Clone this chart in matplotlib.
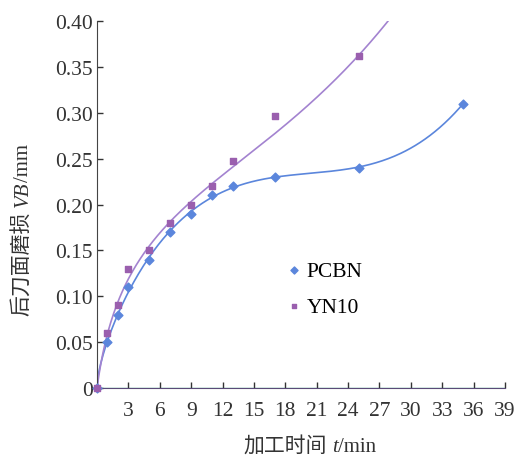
import numpy as np
import matplotlib
matplotlib.use('Agg')
import matplotlib.pyplot as plt

plt.rcParams['font.family'] = ['Liberation Serif', 'Noto Sans CJK SC']

# measured wear data
t_pcbn = [0, 1, 2, 3, 5, 7, 9, 11, 13, 17, 25, 35]
vb_pcbn = [0, 0.05, 0.08, 0.11, 0.14, 0.17, 0.19, 0.21, 0.22, 0.23, 0.24, 0.31]
t_yn10 = [0, 1, 2, 3, 5, 7, 9, 11, 13, 17, 25]
vb_yn10 = [0, 0.06, 0.09, 0.13, 0.15, 0.18, 0.20, 0.22, 0.247, 0.296, 0.362]

x_ticks = [3, 6, 9, 12, 15, 18, 21, 24, 27, 30, 33, 36, 39]
y_ticks = [0, 0.05, 0.10, 0.15, 0.20, 0.25, 0.30, 0.35, 0.40]

blue = '#5b86dc'
purple = '#9a5fae'
purple_line = '#a383d0'
text_color = '#333333'


def fit_curve(t, vb, t_end, basis, weights=None):
    t = np.asarray(t, float)
    vb = np.asarray(vb, float)
    w = np.ones_like(t) if weights is None else np.asarray(weights, float)
    coef, *_ = np.linalg.lstsq(basis(t) * w[:, None], vb * w, rcond=None)
    tt = np.linspace(0, t_end, 300)
    return tt, basis(tt) @ coef


def draw_label(fig, pieces, center_px, base_px, rotation, gap=5):
    # pieces: list of (text, style); placed one after another, centred on center_px
    texts = [fig.text(0, 0, s, fontsize=15, style=st, color=text_color, rotation=rotation,
                      rotation_mode='anchor', ha='left', va='baseline') for s, st in pieces]
    r = fig.canvas.get_renderer()
    sizes = []
    for t in texts:
        bb = t.get_window_extent(r)
        sizes.append(bb.width if rotation == 0 else bb.height)
    total = sum(sizes) + gap
    pos = center_px - total / 2
    W, H = fig.bbox.width, fig.bbox.height
    for i, (t, size) in enumerate(zip(texts, sizes)):
        if rotation == 0:
            t.set_position((pos / W, base_px / H))
        else:
            t.set_position((base_px / W, pos / H))
        pos += size + (gap if i == 0 else 0)


basis_pcbn = lambda x: np.column_stack([np.ones_like(x), np.sqrt(x), x, x**2, x**3])
basis_yn10 = lambda x: np.column_stack([np.log1p(x), x, x**3])
w_yn10 = [1, 1, 1, 1, 1, 1, 1, 1, 1, 0.1, 1]

fig = plt.figure(figsize=(5.23, 4.64), dpi=100)
ax = fig.add_axes([0.1855, 0.1616, 0.78, 0.791])

tt, yy = fit_curve(t_pcbn, vb_pcbn, 35, basis_pcbn)
ax.plot(tt, yy, color=blue, lw=1.2, zorder=2)
tt, yy = fit_curve(t_yn10, vb_yn10, 28, basis_yn10, w_yn10)
ax.plot(tt, yy, color=purple_line, lw=1.2, zorder=2)

ax.scatter(t_pcbn, vb_pcbn, marker='D', s=20, color=blue, zorder=3, label='PCBN', clip_on=False)
ax.scatter(t_yn10, vb_yn10, marker='s', s=14, color=purple, zorder=3, label='YN10', clip_on=False)

ax.axhline(0, color='#3fae8c', lw=1.0, zorder=1)

ax.set_xlim(0, 39)
ax.set_ylim(0, 0.40)
ax.set_xticks(x_ticks)
ax.set_yticks(y_ticks)
ax.set_yticklabels(['0' if v == 0 else '%.2f' % v for v in y_ticks])
ax.tick_params(axis='both', direction='in', length=4, width=1, labelsize=15.5, colors=text_color)
ax.tick_params(axis='x', pad=9)
ax.tick_params(axis='y', pad=3)

for s in ['top', 'right']:
    ax.spines[s].set_visible(False)
ax.spines['left'].set_color('#444444')
ax.spines['bottom'].set_color('#5a4a78')

# axis titles: chinese + italic symbol + unit
draw_label(fig, [('加工时间', 'normal'), ('t', 'italic'), ('/min', 'normal')], 310, 464 - 452, 0)
draw_label(fig, [('后刀面磨损', 'normal'), ('VB', 'italic'), ('/mm', 'normal')], 464 - 230, 28, 90)

leg = ax.legend(loc='center left', bbox_to_anchor=(0.44, 0.27), frameon=False,
                fontsize=15.5, handlelength=0.6, handletextpad=0.3, labelspacing=0.75,
                markerscale=0.8, borderpad=0)

fig.savefig('out.png', dpi=100)
